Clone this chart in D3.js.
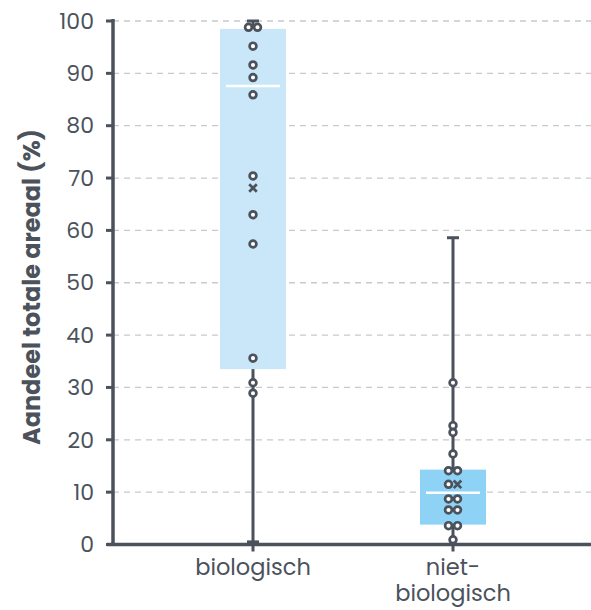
<!DOCTYPE html>
<html>
<head>
<meta charset="utf-8">
<script src="https://cdn.jsdelivr.net/npm/d3@7"></script>
<style>
  body { margin: 0; background: #fff; }
  text { font-family: "Poppins", "Inter", "Noto Sans", sans-serif; }
</style>
</head>
<body>
<svg id="chart" width="591" height="610"></svg>
<script>
// ======== Data ========
const categories = ['biologisch', 'niet-biologisch'];
const categoryLines = [['biologisch'], ['niet-', 'biologisch']];
const boxColors = ['#c9e7f9', '#8ed2f6'];

// box statistics per category
const whiskerMin = [0.5, 0];
const quartile1 = [33.5, 3.8];
const medians = [87.6, 9.9];
const quartile3 = [98.5, 14.3];
const whiskerMax = [100, 58.6];
const means = [68.1, 11.5];

// visible data points per category
const pointsBio = [98.8, 98.8, 95.2, 91.6, 89.2, 85.9, 70.4, 63.0, 57.4, 35.6, 30.9, 28.9];
const pointsNonBio = [30.9, 22.7, 21.4, 17.3, 14.1, 14.1, 11.5, 8.7, 8.7, 6.6, 6.6, 3.6, 3.6, 0.9];
const points = [pointsBio, pointsNonBio];

const yTicks = [0, 10, 20, 30, 40, 50, 60, 70, 80, 90, 100];
const yTitle = 'Aandeel totale areaal (%)';

// ======== Layout ========
const ink = '#4b525c';
const margin = {top: 21, right: 0, bottom: 66, left: 113};
const width = 591, height = 610;

const svg = d3.select('#chart');

const x = d3.scaleBand()
    .domain(categories)
    .range([margin.left + 40, width - 38])
    .paddingInner(0.0);

const y = d3.scaleLinear()
    .domain([0, 100])
    .range([height - margin.bottom + 0.5, margin.top]);

const boxWidth = 66;
const cx = d => x(d) + x.bandwidth() / 2;

// gridlines
svg.append('g')
    .selectAll('line')
    .data(yTicks.filter(t => t > 0))
    .enter()
    .append('line')
    .attr('x1', margin.left)
    .attr('x2', width)
    .attr('y1', d => y(d))
    .attr('y2', d => y(d))
    .attr('stroke', '#c6cace')
    .attr('stroke-width', 1.3)
    .attr('stroke-dasharray', '6,5');

// boxes, whiskers, markers
categories.forEach(function (c, i) {
    const g = svg.append('g');
    const xc = cx(c);

    // whisker line
    g.append('line')
        .attr('x1', xc).attr('x2', xc)
        .attr('y1', y(whiskerMin[i])).attr('y2', y(whiskerMax[i]))
        .attr('stroke', ink).attr('stroke-width', 3);
    // caps
    [whiskerMin[i], whiskerMax[i]].forEach(function (v) {
        g.append('line')
            .attr('x1', xc - 6).attr('x2', xc + 6)
            .attr('y1', y(v)).attr('y2', y(v))
            .attr('stroke', ink).attr('stroke-width', 3);
    });

    g.append('rect')
        .attr('x', xc - boxWidth / 2)
        .attr('y', y(quartile3[i]))
        .attr('width', boxWidth)
        .attr('height', y(quartile1[i]) - y(quartile3[i]))
        .attr('fill', boxColors[i]);

    g.append('line')
        .attr('x1', xc - boxWidth / 2 + 6).attr('x2', xc + boxWidth / 2 - 6)
        .attr('y1', y(medians[i])).attr('y2', y(medians[i]))
        .attr('stroke', '#fff').attr('stroke-width', 2.5);

    // markers: points + mean, dodged when values coincide
    const markers = points[i].map(v => ({v: v, type: 'point'}))
        .concat([{v: means[i], type: 'mean'}]);
    const groups = d3.groups(markers, d => Math.round(d.v * 2) / 2);
    groups.forEach(function (grp) {
        const items = grp[1];
        const n = items.length;
        items.forEach(function (d, k) {
            d.dx = (k - (n - 1) / 2) * 9;
        });
    });

    markers.filter(d => d.type === 'point').forEach(function (d) {
        g.append('circle')
            .attr('cx', xc + d.dx)
            .attr('cy', y(d.v))
            .attr('r', 3.4)
            .attr('fill', '#fff')
            .attr('stroke', ink)
            .attr('stroke-width', 2.7);
    });
    markers.filter(d => d.type === 'mean').forEach(function (d) {
        const mx = xc + d.dx, my = y(d.v), s = 3.8;
        g.append('path')
            .attr('d', `M${mx - s},${my - s}L${mx + s},${my + s}M${mx - s},${my + s}L${mx + s},${my - s}`)
            .attr('stroke', ink)
            .attr('stroke-width', 2.7)
            .attr('fill', 'none');
    });
});

// ======== Axes ========
const yAxis = svg.append('g');
yAxis.append('line')
    .attr('x1', margin.left).attr('x2', margin.left)
    .attr('y1', y(100) - 2).attr('y2', y(0) + 1.5)
    .attr('stroke', ink).attr('stroke-width', 3.5);
yAxis.selectAll('line.tick')
    .data(yTicks)
    .enter()
    .append('line')
    .classed('tick', true)
    .attr('x1', margin.left - 7).attr('x2', margin.left)
    .attr('y1', d => y(d)).attr('y2', d => y(d))
    .attr('stroke', ink).attr('stroke-width', 3);
yAxis.selectAll('text')
    .data(yTicks)
    .enter()
    .append('text')
    .attr('x', 94)
    .attr('y', d => y(d))
    .attr('dy', '0.35em')
    .attr('text-anchor', 'end')
    .attr('font-size', 22)
    .attr('fill', ink)
    .text(d => d);

svg.append('text')
    .attr('transform', 'translate(40,287) rotate(-90)')
    .attr('text-anchor', 'middle')
    .attr('font-size', 24)
    .attr('font-weight', 'bold')
    .attr('fill', ink)
    .text(yTitle);

const xAxis = svg.append('g');
xAxis.append('line')
    .attr('x1', margin.left - 6).attr('x2', width)
    .attr('y1', y(0)).attr('y2', y(0))
    .attr('stroke', ink).attr('stroke-width', 3.5);
categories.forEach(function (c, i) {
    xAxis.append('line')
        .attr('x1', cx(c)).attr('x2', cx(c))
        .attr('y1', y(0)).attr('y2', y(0) + 7)
        .attr('stroke', ink).attr('stroke-width', 3);
    categoryLines[i].forEach(function (line, k) {
        xAxis.append('text')
            .attr('x', cx(c))
            .attr('y', 575 + k * 26)
            .attr('text-anchor', 'middle')
            .attr('font-size', 22.5)
            .attr('fill', ink)
            .text(line);
    });
});
</script>
</body>
</html>
